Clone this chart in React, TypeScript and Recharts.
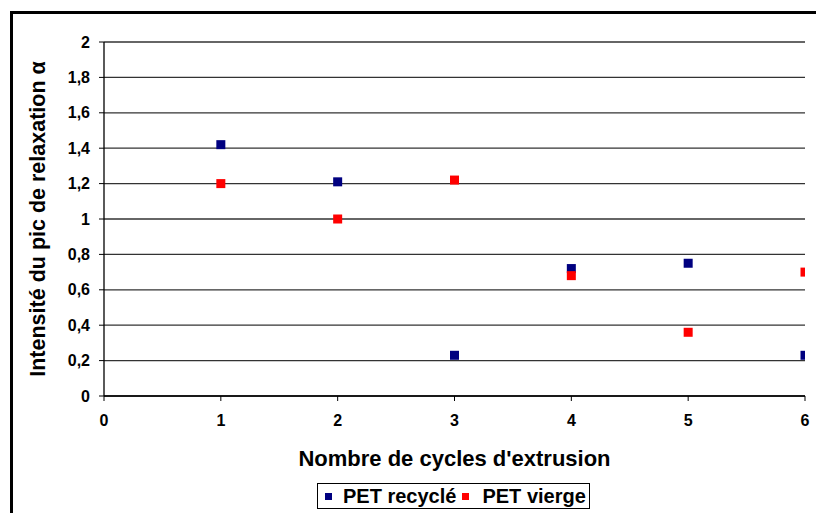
import React from 'react';
import { ScatterChart, Scatter, XAxis, YAxis, CartesianGrid, Legend, Label } from 'recharts';

const cycles = [1, 2, 3, 4, 5, 6];
const petRecycle = [1.42, 1.21, 0.23, 0.72, 0.75, 0.23];
const petVierge = [1.2, 1.0, 1.22, 0.68, 0.36, 0.7];
const xTicks = [0, 1, 2, 3, 4, 5, 6];
const yTicks = [0, 0.2, 0.4, 0.6, 0.8, 1, 1.2, 1.4, 1.6, 1.8, 2];
const seriesNames = ['PET recyclé', 'PET vierge'];
const seriesColors = ['#000080', '#FF0000'];

const recycleData = cycles.map((c, i) => ({ x: c, y: petRecycle[i] }));
const viergeData = cycles.map((c, i) => ({ x: c, y: petVierge[i] }));

const FONT = '"Liberation Sans", Arial, sans-serif';

const SquareMarker = (props: any) => {
  const { cx, cy, fill } = props;
  if (cx == null || cy == null) return null;
  return <rect x={cx - 4.5} y={cy - 4.5} width={9} height={9} fill={fill} />;
};

const fmt = (v: number) => String(v).replace('.', ',');

const LegendContent = () => (
  <div
    style={{
      border: '1px solid #000',
      background: '#fff',
      width: 273,
      height: 26,
      boxSizing: 'border-box',
      display: 'flex',
      alignItems: 'center',
      justifyContent: 'flex-start',
      paddingLeft: 7,
      fontFamily: FONT,
      fontWeight: 'bold',
      fontSize: 20,
      lineHeight: '20px',
      color: '#000',
      whiteSpace: 'nowrap',
    }}
  >
    {seriesNames.map((n, i) => (
      <span key={n} style={{ display: 'inline-flex', alignItems: 'center', marginLeft: i === 0 ? 0 : 6 }}>
        <span style={{ display: 'inline-block', width: 7, height: 7, background: seriesColors[i], marginRight: i === 0 ? 11 : 13 }} />
        {n}
      </span>
    ))}
  </div>
);

export default function App() {
  return (
    <div style={{ position: 'absolute', left: 0, top: 0, width: 816, height: 513, background: '#fff', overflow: 'hidden' }}>
      <div style={{ position: 'absolute', left: 10, top: 11, width: 806, height: 3, background: '#000' }} />
      <div style={{ position: 'absolute', left: 10, top: 11, width: 3, height: 502, background: '#000' }} />
      <ScatterChart
        width={816}
        height={513}
        margin={{ top: 42, right: 11, bottom: 87, left: 0 }}
        style={{ position: 'absolute', left: 0, top: 0 }}
      >
        <CartesianGrid horizontal vertical={false} stroke="#333" strokeWidth={1.3} />
        <XAxis
          type="number"
          dataKey="x"
          domain={[0, 6]}
          ticks={xTicks}
          height={30}
          axisLine={{ stroke: '#000', strokeWidth: 1.3 }}
          tickLine={{ stroke: '#000' }}
          tickSize={5}
          tick={{ fill: '#000', fontFamily: FONT, fontWeight: 'bold', fontSize: 16 }}
          tickMargin={14}
          interval={0}
          allowDataOverflow
        >
          <Label
            value="Nombre de cycles d'extrusion"
            position="insideBottom"
            offset={-40}
            style={{ fill: '#000', fontFamily: FONT, fontWeight: 'bold', fontSize: 22 }}
          />
        </XAxis>
        <YAxis
          type="number"
          dataKey="y"
          domain={[0, 2]}
          ticks={yTicks}
          width={104}
          axisLine={{ stroke: '#000', strokeWidth: 1.3 }}
          tickLine={{ stroke: '#000' }}
          tickSize={5}
          tickMargin={9}
          tickFormatter={fmt}
          tick={{ fill: '#000', fontFamily: FONT, fontWeight: 'bold', fontSize: 16 }}
          interval={0}
          allowDataOverflow
        >
          <Label
            value="Intensité du pic de relaxation α"
            angle={-90}
            position="insideLeft"
            offset={37}
            style={{ textAnchor: 'middle', fill: '#000', fontFamily: FONT, fontWeight: 'bold', fontSize: 21.5 }}
          />
        </YAxis>
        <Legend
          layout="vertical"
          align="center"
          verticalAlign="middle"
          content={<LegendContent />}
          wrapperStyle={{ position: 'absolute', left: 317, top: 483, width: 273, height: 26 }}
        />
        <Scatter name={seriesNames[0]} data={recycleData} fill={seriesColors[0]} shape={<SquareMarker />} isAnimationActive={false} />
        <Scatter name={seriesNames[1]} data={viergeData} fill={seriesColors[1]} shape={<SquareMarker />} isAnimationActive={false} />
      </ScatterChart>
    </div>
  );
}
